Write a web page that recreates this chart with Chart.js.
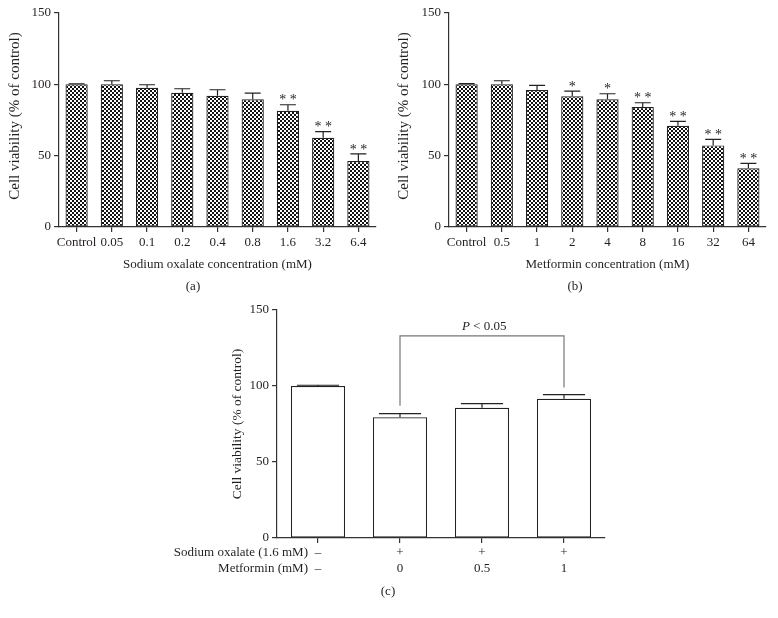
<!DOCTYPE html>
<html>
<head>
<meta charset="utf-8">
<script src="https://cdn.jsdelivr.net/npm/chart.js@4"></script>
<style>
  body { margin: 0; background: #fff; }
  #wrap { position: relative; width: 778px; height: 618px; }
  canvas { position: absolute; }
</style>
</head>
<body>
<div id="wrap">
  <canvas id="chartA" width="389" height="300" style="left:0;top:0"></canvas>
  <canvas id="chartB" width="389" height="300" style="left:389px;top:0"></canvas>
  <canvas id="chartC" width="778" height="318" style="left:0;top:295px"></canvas>
</div>
<script>
// panel (a)
const oxalateLabels = ['Control', '0.05', '0.1', '0.2', '0.4', '0.8', '1.6', '3.2', '6.4'];
const oxalateMeans  = [100, 100, 97.6, 94.1, 92, 89.5, 81.5, 62.6, 46.3];
const oxalateErrTop = [100.4, 102.5, 99.7, 96.9, 96.2, 93.9, 85.7, 66.8, 51.2];
const oxalateStars  = ['', '', '', '', '', '', '**', '**', '**'];

// panel (b)
const metforminLabels = ['Control', '0.5', '1', '2', '4', '8', '16', '32', '64'];
const metforminMeans  = [100, 100, 96, 91.6, 89.5, 84.1, 71, 57.2, 41.1];
const metforminErrTop = [100.5, 102.5, 99.3, 95.3, 93.4, 87.1, 74.1, 61.4, 44.6];
const metforminStars  = ['', '', '', '*', '*', '**', '**', '**', '**'];

// panel (c)
const comboOxalate   = ['–', '+', '+', '+'];
const comboMetformin = ['–', '0', '0.5', '1'];
const comboMeans     = [100, 79.4, 85.7, 91.6];
const comboErrTop    = [100.5, 81.8, 88.4, 94.3];
const bracketIdx     = [1, 3];
const bracketY       = [87, 133, 99];   // left drop, top, right drop

const yTicks = [0, 50, 100, 150];

const FONT = '"Liberation Serif", "DejaVu Serif", serif';
const TXT = '#231f20';

function checker() {
  const c = document.createElement('canvas');
  c.width = 4; c.height = 4;
  const g = c.getContext('2d');
  g.fillStyle = '#fff'; g.fillRect(0, 0, 4, 4);
  g.fillStyle = '#111';
  g.fillRect(0, 0, 2, 2);
  g.fillRect(2, 2, 2, 2);
  return g.createPattern(c, 'repeat');
}

// error caps, stars, titles, bracket
const extras = {
  id: 'extras',
  afterDatasetsDraw(chart, args, o) {
    const ctx = chart.ctx;
    const y = chart.scales.y;
    const meta = chart.getDatasetMeta(0);
    ctx.save();
    ctx.strokeStyle = '#222';
    ctx.lineWidth = 1.2;
    o.err.forEach((v, i) => {
      const bar = meta.data[i];
      const cx = bar.x;
      const half = bar.width * o.cap / 2;
      const y0 = y.getPixelForValue(o.means[i]);
      const y1 = y.getPixelForValue(v);
      ctx.beginPath();
      ctx.moveTo(cx, y0); ctx.lineTo(cx, y1);
      ctx.moveTo(cx - half, y1); ctx.lineTo(cx + half, y1);
      ctx.stroke();
      if (o.stars && o.stars[i]) {
        ctx.fillStyle = TXT;
        ctx.font = '14px ' + FONT;
        ctx.textAlign = 'center';
        ctx.textBaseline = 'bottom';
        ctx.fillText(o.stars[i].split('').join(' '), cx, y1 + 3);
      }
    });
    if (o.bracket) {
      const xa = meta.data[o.bracket.idx[0]].x, xb = meta.data[o.bracket.idx[1]].x;
      const [l, t, r] = o.bracket.y.map(v => y.getPixelForValue(v));
      ctx.strokeStyle = '#777';
      ctx.lineWidth = 1.2;
      ctx.beginPath();
      ctx.moveTo(xa, l); ctx.lineTo(xa, t); ctx.lineTo(xb, t); ctx.lineTo(xb, r);
      ctx.stroke();
      ctx.fillStyle = TXT;
      ctx.font = 'italic 13px ' + FONT;
      ctx.textAlign = 'right';
      ctx.textBaseline = 'bottom';
      const mid = (xa + xb) / 2;
      ctx.fillText('P', mid - 12, t - 3);
      ctx.font = '13px ' + FONT;
      ctx.textAlign = 'left';
      ctx.fillText(' < 0.05', mid - 12, t - 3);
    }
    ctx.restore();
  },
  afterDraw(chart, args, o) {
    const ctx = chart.ctx;
    const a = chart.chartArea;
    ctx.save();
    ctx.fillStyle = TXT;
    ctx.font = '13px ' + FONT;
    ctx.textAlign = 'center';
    ctx.textBaseline = 'middle';
    if (o.xTitle) ctx.fillText(o.xTitle, (a.left + a.right) / 2, a.bottom + 38);
    ctx.fillText(o.panel, o.panelX, o.panelY);
    if (o.rows) {
      ctx.textAlign = 'right';
      o.rows.forEach((r, i) => ctx.fillText(r, a.left + 31, a.bottom + 15 + i * 15.5));
    }
    ctx.font = o.yTitleSize + 'px ' + FONT;
    ctx.translate(o.yTitleX, o.yTitleY);
    ctx.rotate(-Math.PI / 2);
    ctx.textAlign = 'center';
    ctx.fillText('Cell viability (% of control)', 0, 0);
    ctx.restore();
  }
};

function makeChart(id, labels, means, opts) {
  const ctx = document.getElementById(id).getContext('2d');
  return new Chart(ctx, {
    type: 'bar',
    data: {
      labels: labels,
      datasets: [{
        data: means,
        backgroundColor: opts.fill,
        borderColor: '#222',
        borderWidth: 1.2,
        borderSkipped: false,
        barPercentage: 1,
        categoryPercentage: opts.barFrac
      }]
    },
    options: {
      responsive: false,
      animation: false,
      layout: { padding: opts.padding },
      plugins: {
        legend: { display: false },
        tooltip: { enabled: false },
        extras: opts.extras
      },
      scales: {
        x: {
          afterFit: s => { s.height = opts.xHeight; },
          grid: { display: true, offset: false, drawOnChartArea: false, tickLength: 5, color: '#333', lineWidth: 1.2 },
          border: { color: '#333', width: 1.2 },
          ticks: { color: TXT, font: { family: FONT, size: 13 }, padding: opts.tickPad, maxRotation: 0, autoSkip: false }
        },
        y: {
          min: 0, max: 150,
          afterFit: s => { s.width = opts.yWidth; },
          afterBuildTicks: s => { s.ticks = yTicks.map(v => ({ value: v })); },
          grid: { display: true, drawOnChartArea: false, tickLength: 5, color: '#333', lineWidth: 1.2 },
          border: { color: '#333', width: 1.2 },
          ticks: { color: TXT, font: { family: FONT, size: 13 }, padding: 3 }
        }
      }
    },
    plugins: [extras]
  });
}

document.addEventListener('DOMContentLoaded', () => {
  try {
    const pat = checker();

    makeChart('chartA', oxalateLabels, oxalateMeans, {
      fill: pat, barFrac: 0.63,
      padding: { left: 0, right: 13, top: 13, bottom: 0 },
      xHeight: 73, yWidth: 59, tickPad: 3,
      extras: { err: oxalateErrTop, means: oxalateMeans, stars: oxalateStars, cap: 0.72,
                xTitle: 'Sodium oxalate concentration (mM)', panel: '(a)', panelX: 193, panelY: 287,
                yTitleX: 15, yTitleY: 116, yTitleSize: 15 }
    });

    makeChart('chartB', metforminLabels, metforminMeans, {
      fill: pat, barFrac: 0.63,
      padding: { left: 0, right: 12, top: 13, bottom: 0 },
      xHeight: 73, yWidth: 60, tickPad: 3,
      extras: { err: metforminErrTop, means: metforminMeans, stars: metforminStars, cap: 0.72,
                xTitle: 'Metformin concentration (mM)', panel: '(b)', panelX: 186, panelY: 287,
                yTitleX: 15, yTitleY: 116, yTitleSize: 15 }
    });

    const comboLabels = comboOxalate.map((s, i) => [s, comboMetformin[i]]);
    makeChart('chartC', comboLabels, comboMeans, {
      fill: '#fff', barFrac: 0.66,
      padding: { left: 0, right: 173, top: 15, bottom: 0 },
      xHeight: 75, yWidth: 277, tickPad: 2,
      extras: { err: comboErrTop, means: comboMeans, cap: 0.78,
                bracket: { idx: bracketIdx, y: bracketY },
                rows: ['Sodium oxalate (1.6 mM)', 'Metformin (mM)'],
                panel: '(c)', panelX: 388, panelY: 297,
                yTitleX: 237, yTitleY: 129, yTitleSize: 13.5 }
    });
  } catch (error) {
    console.error('Error drawing charts:', error);
  }
});
</script>
</body>
</html>
